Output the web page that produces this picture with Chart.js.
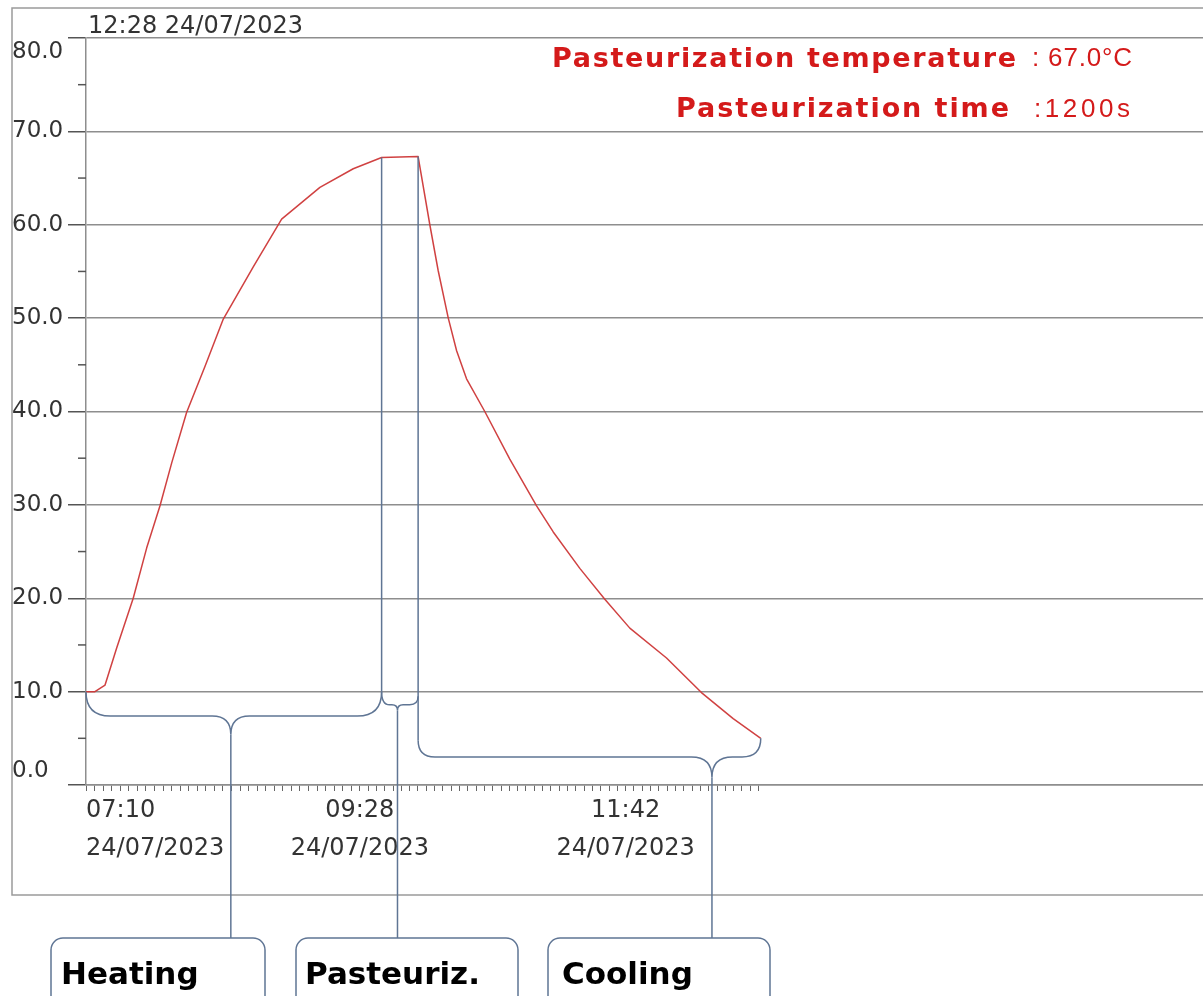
<!DOCTYPE html>
<html>
<head>
<meta charset="utf-8">
<title>Pasteurization curve</title>
<script src="https://cdn.jsdelivr.net/npm/chart.js@4.4.0/dist/chart.umd.min.js"></script>
<style>
  html, body { margin: 0; padding: 0; background: #fff; }
  #wrap { width: 1203px; height: 996px; position: relative; }
</style>
</head>
<body>
<div id="wrap"><canvas id="pastChart"></canvas></div>
<script>
// --- data (minutes since 07:10, °C) ---
const timeMinutes = [0, 4.5, 9.6, 15.5, 23.8, 30.6, 37.3, 43.2, 50.7, 59.9, 69.2, 84.3, 98.6, 117.9, 134.7, 149.0, 167.4,
    173.3, 177.5, 182.6, 186.8, 191.8, 201.0, 213.6, 227.1, 235.5, 248.9, 261.5, 274.1, 292.6, 310.2, 326.2, 340.1];
const temperature = [10.0, 10.0, 10.7, 14.7, 20.0, 25.4, 29.9, 34.5, 39.9, 44.8, 49.9, 55.5, 60.6, 64.0, 66.0, 67.2, 67.3,
    60.0, 55.1, 50.0, 46.5, 43.5, 40.0, 34.9, 29.9, 27.1, 23.2, 19.9, 16.8, 13.6, 9.9, 7.1, 5.0];

// x axis labels
const xMajorMinutes = [0, 138, 272];
const xMajorTimes = ['07:10', '09:28', '11:42'];
const xMajorDates = ['24/07/2023', '24/07/2023', '24/07/2023'];
const xLastTick = 340;

// header / info texts
const headerStamp = '12:28 24/07/2023';
const infoLabels = ['Pasteurization temperature', 'Pasteurization time'];
const infoValues = [': 67.0°C', ':1200s'];

// phases (minutes) and brace levels (°C)
const phaseNames = ['Heating', 'Pasteuriz.', 'Cooling'];
const phaseFrom = [0, 149.0, 167.4];
const phaseTo = [149.0, 167.4, 340.1];
const phaseTip = [73, 157, 315.5];
const braceLeftEnd = [10.0, 10.0, 4.8];
const braceRightEnd = [10.0, 9.5, 5.0];
const braceBar = [7.4, 8.6, 3.0];
const bracePoint = [5.4, 8.0, 0.8];

const BRACE_COLOR = '#5f7594';
const GRID_COLOR = '#8e8e8e';
const TEXT_COLOR = '#333';

// --- helpers ---
function tempAt(t) {
    for (let i = 1; i < timeMinutes.length; i++) {
        if (t <= timeMinutes[i]) {
            const f = (t - timeMinutes[i - 1]) / (timeMinutes[i] - timeMinutes[i - 1]);
            return temperature[i - 1] + f * (temperature[i] - temperature[i - 1]);
        }
    }
    return temperature[temperature.length - 1];
}

function buildXTicks() {
    const ticks = [];
    for (let m = 0; m < xMajorMinutes.length; m++) {
        const start = xMajorMinutes[m];
        const step = m < xMajorMinutes.length - 1
            ? (xMajorMinutes[m + 1] - start) / 32
            : (start - xMajorMinutes[m - 1]) / 32;
        const stop = m < xMajorMinutes.length - 1 ? xMajorMinutes[m + 1] - 0.01 : xLastTick + 0.01;
        for (let v = start; v < stop; v += step) ticks.push({ value: v });
    }
    return ticks;
}

// spreads the letters so the text fills the given width
function fitText(ctx, text, x, y, width, align) {
    ctx.letterSpacing = '0px';
    const natural = ctx.measureText(text).width;
    const spacing = (width - natural) / (text.length - 1);
    ctx.letterSpacing = spacing + 'px';
    ctx.textAlign = 'left';
    ctx.fillText(text, align === 'right' ? x - width : x, y);
    ctx.letterSpacing = '0px';
}

function drawBrace(ctx, xl, xr, xt, yl, yr, yb, yp) {
    const rl = Math.min(yb - yl, (xt - xl) / 2);
    const rr = Math.min(yb - yr, (xr - xt) / 2);
    const rt = Math.min(yp - yb, (xt - xl) / 2, (xr - xt) / 2);
    ctx.beginPath();
    ctx.moveTo(xl, yl);
    ctx.quadraticCurveTo(xl, yb, xl + rl, yb);
    ctx.lineTo(xt - rt, yb);
    ctx.quadraticCurveTo(xt, yb, xt, yp);
    ctx.quadraticCurveTo(xt, yb, xt + rt, yb);
    ctx.lineTo(xr - rr, yb);
    ctx.quadraticCurveTo(xr, yb, xr, yr);
    ctx.stroke();
}

// --- overlay: frame, header, info, minor ticks, braces and boxes ---
const overlay = {
    id: 'overlay',
    beforeDraw(chart) {
        const ctx = chart.ctx;
        ctx.save();
        ctx.strokeStyle = '#9a9a9a';
        ctx.lineWidth = 1.5;
        ctx.strokeRect(12, 8, 1230, 887);
        ctx.restore();
    },
    afterDraw(chart) {
        const { ctx, scales: { x, y } } = chart;
        ctx.save();

        // minor y ticks
        ctx.strokeStyle = '#555';
        ctx.lineWidth = 1.5;
        for (let v = 5; v < 80; v += 10) {
            const py = y.getPixelForValue(v);
            ctx.beginPath();
            ctx.moveTo(x.left - 8, py);
            ctx.lineTo(x.left, py);
            ctx.stroke();
        }

        // header stamp
        ctx.fillStyle = TEXT_COLOR;
        ctx.font = '24px "DejaVu Sans"';
        ctx.textAlign = 'left';
        ctx.textBaseline = 'alphabetic';
        ctx.fillText(headerStamp, 88, 33);

        // red info block
        ctx.fillStyle = '#d41a1a';
        ctx.font = 'bold 27px "DejaVu Sans"';
        fitText(ctx, infoLabels[0], 1016, 67, 464, 'right');
        fitText(ctx, infoLabels[1], 1009, 117, 333, 'right');
        ctx.font = '26px "Liberation Sans Narrow", "Liberation Sans"';
        fitText(ctx, infoValues[0], 1032, 66, 100, 'left');
        fitText(ctx, infoValues[1], 1034, 117, 96, 'left');

        // braces
        ctx.strokeStyle = BRACE_COLOR;
        ctx.lineWidth = 1.5;
        const boxTop = 938;
        const boxLeft = [51, 296, 548];
        const boxWidth = [214, 222, 222];
        for (let i = 0; i < phaseNames.length; i++) {
            const xl = x.getPixelForValue(phaseFrom[i]);
            const xr = x.getPixelForValue(phaseTo[i]);
            const xt = x.getPixelForValue(phaseTip[i]);
            const yl = y.getPixelForValue(braceLeftEnd[i]);
            const yr = y.getPixelForValue(braceRightEnd[i]);
            const yb = y.getPixelForValue(braceBar[i]);
            const yp = y.getPixelForValue(bracePoint[i]);
            if (i > 0) {
                ctx.beginPath();
                ctx.moveTo(xl, y.getPixelForValue(tempAt(phaseFrom[i])));
                ctx.lineTo(xl, yl);
                ctx.stroke();
            }
            drawBrace(ctx, xl, xr, xt, yl, yr, yb, yp);
            // connector to the label box
            ctx.beginPath();
            ctx.moveTo(xt, yp);
            ctx.lineTo(xt, boxTop);
            ctx.stroke();
            // label box
            ctx.beginPath();
            ctx.roundRect(boxLeft[i], boxTop, boxWidth[i], 90, 12);
            ctx.stroke();
        }

        ctx.fillStyle = '#000';
        ctx.font = 'bold 31px "DejaVu Sans"';
        ctx.textAlign = 'left';
        const boxLeftText = [61, 305, 562];
        phaseNames.forEach((name, i) => ctx.fillText(name, boxLeftText[i], 984));

        ctx.restore();
    }
};

const ctx = document.getElementById('pastChart').getContext('2d');
const chart = new Chart(ctx, {
    type: 'line',
    data: {
        datasets: [{
            label: 'Temperature',
            data: timeMinutes.map((t, i) => ({ x: t, y: temperature[i] })),
            borderColor: 'rgba(205, 55, 55, 0.95)',
            borderWidth: 1.5,
            borderJoinStyle: 'round',
            pointRadius: 0,
            tension: 0
        }]
    },
    options: {
        responsive: true,
        maintainAspectRatio: false,
        animation: false,
        layout: { padding: { left: 12, top: 38, right: 0, bottom: 0 } },
        plugins: { legend: { display: false }, tooltip: { enabled: false } },
        scales: {
            x: {
                type: 'linear',
                min: 0,
                max: 563,
                afterBuildTicks: scale => { scale.ticks = buildXTicks(); },
                afterFit: scale => { scale.height = 211; },
                grid: { drawOnChartArea: false, tickLength: 6, color: '#666', lineWidth: 1 },
                border: { color: GRID_COLOR, width: 1.5 },
                ticks: {
                    autoSkip: false,
                    maxRotation: 0,
                    align: 'inner',
                    padding: 1,
                    color: TEXT_COLOR,
                    font: { family: 'DejaVu Sans', size: 24, lineHeight: 1.58 },
                    callback: function (value) {
                        const k = xMajorMinutes.findIndex(m => Math.abs(m - value) < 0.01);
                        return k >= 0 ? [xMajorTimes[k], xMajorDates[k]] : '';
                    }
                }
            },
            y: {
                min: 0,
                max: 80,
                afterFit: scale => { scale.width = 74; },
                grid: { color: GRID_COLOR, lineWidth: 1.5, tickLength: 18, tickColor: '#555' },
                border: { color: GRID_COLOR, width: 1.5 },
                ticks: {
                    stepSize: 10,
                    crossAlign: 'far',
                    color: TEXT_COLOR,
                    font: { family: 'DejaVu Sans', size: 23, lineHeight: 1.2 },
                    callback: function (value) {
                        const txt = value.toFixed(1);
                        if (value === 80) return ['', txt];
                        if (value === 0) return [txt, ''];
                        return txt;
                    }
                }
            }
        }
    },
    plugins: [overlay]
});
</script>
</body>
</html>
